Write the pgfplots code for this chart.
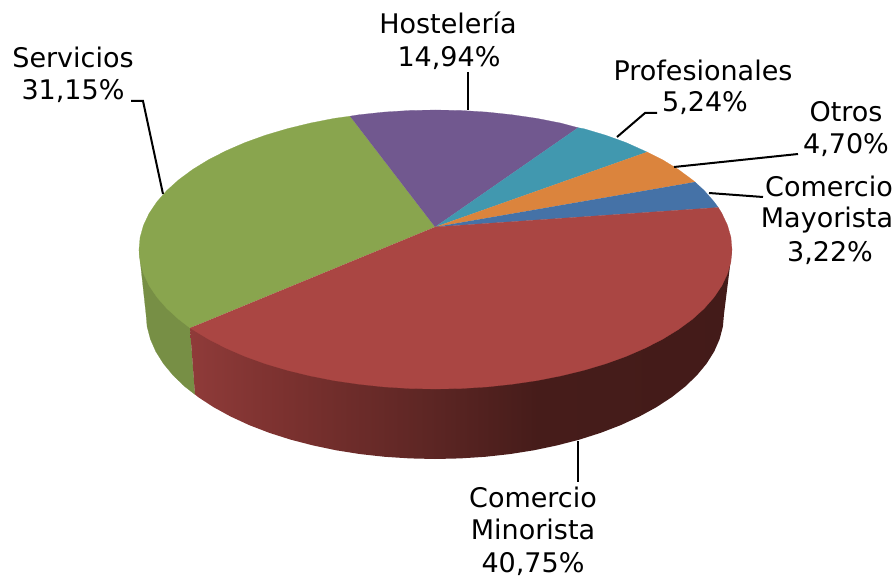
\documentclass[border=0pt]{standalone}
\usepackage{pgfplots}
\pgfplotsset{compat=1.18}
\usepackage{fontspec}
\setmainfont{DejaVu Sans}
\pgfdeclarehorizontalshading{redside}{100bp}{rgb(0bp)=(.561,.231,.224); rgb(25bp)=(.561,.231,.224); rgb(33bp)=(.49,.196,.188); rgb(47bp)=(.365,.149,.141); rgb(57bp)=(.275,.11,.102); rgb(75bp)=(.263,.106,.098); rgb(100bp)=(.263,.106,.098)}
\definecolor{cgreen}{HTML}{89A54E}
\definecolor{cgreens}{HTML}{778F45}
\definecolor{cpurple}{HTML}{71588F}
\definecolor{cteal}{HTML}{4198AF}
\definecolor{corange}{HTML}{DB843D}
\definecolor{cblue}{HTML}{4572A7}
\definecolor{cred}{HTML}{AA4643}
\begin{document}
\begin{tikzpicture}
\path[use as bounding box] (0,0) rectangle (894pt,577pt);
\begin{axis}[at={(0,0)},anchor=south west,width=894pt,height=577pt,scale only axis,xmin=0,xmax=894,ymin=0,ymax=577,y dir=reverse,axis lines=none,clip=false]
% side green
\addplot[draw=cgreens,line width=.2pt,fill=cgreens] coordinates {(139,250)(146,314)(147.1,326.6)(150.4,339.2)(155.8,351.5)(163.4,363.6)(173.1,375.3)(184.7,386.5)(195,394.5)(190,328)};
% side red
\addplot[draw=none,shade,shading=redside] coordinates {(190,328)(195,394.5)(198.3,397.2)(213.6,407.2)(230.6,416.5)(249.2,425.1)(269.2,432.8)(290.5,439.6)(312.9,445.4)(336.2,450.3)(360.2,454.1)(384.8,456.8)(409.8,458.4)(435,459)(460.2,458.4)(485.2,456.8)(509.8,454.1)(533.8,450.3)(557.1,445.4)(579.5,439.6)(600.8,432.8)(620.8,425.1)(639.4,416.5)(656.4,407.2)(671.7,397.2)(685.3,386.5)(696.9,375.3)(706.6,363.6)(714.2,351.5)(719.6,339.2)(722.9,326.6)(724,314)(732,250)(435,250)};
% top green
\addplot[draw=cgreen,line width=.2pt,fill=cgreen] coordinates {(435,227)(350,116.2)(334.1,118.4)(310.2,123.1)(287.3,128.7)(265.4,135.2)(244.9,142.6)(225.8,150.9)(208.4,159.8)(192.6,169.5)(178.7,179.8)(166.8,190.5)(156.9,201.8)(149.1,213.4)(143.5,225.3)(140.1,237.3)(139,249.5)(140.1,261.7)(143.5,273.7)(149.1,285.6)(156.9,297.2)(166.8,308.5)(178.7,319.3)(190,328)};
% top purple
\addplot[draw=cpurple,line width=.2pt,fill=cpurple] coordinates {(435,227)(578,127.7)(560.8,123.1)(536.9,118.4)(512.2,114.8)(487,112.1)(461.4,110.5)(435.5,110)(409.6,110.5)(384,112.1)(358.8,114.8)(350,116.2)};
% top teal
\addplot[draw=cteal,line width=.2pt,fill=cteal] coordinates {(435,227)(647,152)(626.1,142.6)(605.6,135.2)(583.8,128.7)(578,127.7)};
% top orange
\addplot[draw=corange,line width=.2pt,fill=corange] coordinates {(435,227)(695,182)(692.3,179.8)(678.4,169.5)(662.6,159.8)(647,152)};
% top blue
\addplot[draw=cblue,line width=.2pt,fill=cblue] coordinates {(435,227)(718.3,207.5)(714.1,201.8)(704.2,190.5)(695,182)};
% top red
\addplot[draw=cred,line width=.2pt,fill=cred] coordinates {(435,227)(718.3,207.5)(721.9,213.4)(727.5,225.3)(730.9,237.3)(732,249.5)(730.9,261.7)(727.5,273.7)(721.9,285.6)(714.1,297.2)(704.2,308.5)(692.3,319.3)(678.4,329.5)(662.6,339.2)(645.2,348.1)(626.1,356.4)(605.6,363.8)(583.8,370.3)(560.8,375.9)(536.9,380.6)(512.2,384.2)(487.1,386.9)(461.4,388.5)(435.5,389)(409.6,388.5)(383.9,386.9)(358.8,384.2)(334.1,380.6)(310.2,375.9)(287.3,370.3)(265.4,363.8)(244.9,356.4)(225.8,348.1)(208.4,339.2)(190,328)};
% leaders
\addplot[black,line width=2pt] coordinates {(131,101)(143,101)(163,194)};
\addplot[black,line width=2pt] coordinates {(468,72)(468,110)};
\addplot[black,line width=2pt] coordinates {(657,113)(645,113)(617,137)};
\addplot[black,line width=2pt] coordinates {(674,167)(798,154)};
\addplot[black,line width=2pt] coordinates {(709,193)(763,197)};
\addplot[black,line width=2pt] coordinates {(578,441)(578,482)};
% labels
\begin{scope}[every node/.style={anchor=base,inner sep=0pt,font=\fontsize{27}{32}\selectfont,text=black}]
\node at (axis cs:73,68) {Servicios};
\node at (axis cs:73,100) {31,15\%};
\node at (axis cs:448,34) {Hostelería};
\node at (axis cs:449,66.5) {14,94\%};
\node at (axis cs:703,81) {Profesionales};
\node at (axis cs:705,112) {5,24\%};
\node at (axis cs:846,122) {Otros};
\node at (axis cs:846,154) {4,70\%};
\node at (axis cs:829,197) {Comercio};
\node at (axis cs:827,228) {Mayorista};
\node at (axis cs:830,262) {3,22\%};
\node at (axis cs:533,507) {Comercio};
\node at (axis cs:533,539) {Minorista};
\node at (axis cs:533,572) {40,75\%};
\end{scope}
\end{axis}
\end{tikzpicture}
\end{document}
